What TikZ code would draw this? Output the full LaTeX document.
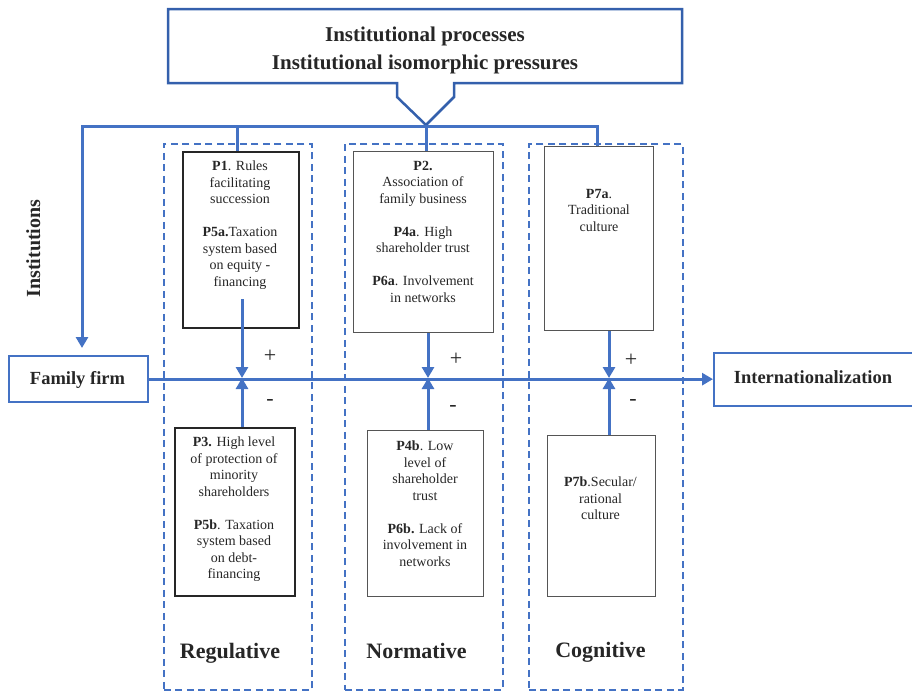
\documentclass[tikz,border=0pt]{standalone}
\usepackage{fontspec}
\setmainfont{Liberation Serif}
\usetikzlibrary{arrows.meta}

\definecolor{linkblue}{RGB}{68,114,196}
\definecolor{frameblue}{RGB}{52,96,172}
\definecolor{inkgray}{RGB}{38,38,38}
\definecolor{boxgray}{RGB}{85,85,85}

\begin{document}
\begin{tikzpicture}[x=1pt,y=-1pt,
  link/.style={draw=linkblue, line width=3pt},
  tip/.style={-{Triangle[length=11pt,width=12pt]}},
  pillar/.style={draw=linkblue, line width=1.8pt, dash pattern=on 7pt off 4.5pt,
    rectangle, inner sep=0, anchor=north west},
  strongbox/.style={draw=black!85, line width=2.2pt, rectangle, inner sep=0, anchor=north west},
  plainbox/.style={draw=boxgray, line width=1.3pt, rectangle, inner sep=0, anchor=north west},
  endbox/.style={draw=linkblue, line width=2.3pt, rectangle, inner sep=0, anchor=north west},
  proptext/.style={font=\fontsize{14}{16.5}\selectfont, align=center, inner sep=0,
    anchor=north, text=inkgray},
  sign/.style={font=\fontsize{22}{22}\selectfont, inner sep=0, text=inkgray},
  pillarname/.style={font=\bfseries\fontsize{22}{22}\selectfont, inner sep=0, anchor=base, text=inkgray},
  endname/.style={font=\bfseries\fontsize{18.5}{18.5}\selectfont, inner sep=0, anchor=base, text=inkgray}
]
\useasboundingbox (0,0) rectangle (912,691);

% callout with the pointer on its lower edge
\coordinate (ptr) at (426,125);
\draw[draw=frameblue, line width=2.5pt, line join=miter]
  (168,9) -- (682,9) -- (682,83) -- (454,83) -- (454,97) -- (ptr)
  -- (397,97) -- (397,83) -- (168,83) -- cycle;
\node[font=\bfseries\fontsize{21}{28}\selectfont, align=center, inner sep=0,
  anchor=north, text=inkgray] (title) at (425,27)
  {Institutional processes\\Institutional isomorphic pressures};

% the three pillars
\node[pillar, minimum width=148pt, minimum height=546pt] (reg) at (163,143) {};
\node[pillar, minimum width=158pt, minimum height=546pt] (nor) at (344,143) {};
\node[pillar, minimum width=154pt, minimum height=546pt] (cog) at (528,143) {};

\node[pillarname] (regname) at (230,658) {Regulative};
\node[pillarname] (norname) at (416.5,658) {Normative};
\node[pillarname] (cogname) at (600.5,657) {Cognitive};

% proposition boxes
\node[strongbox, minimum width=116pt, minimum height=176pt] (p1) at (182,151) {};
\node[plainbox, minimum width=140pt, minimum height=181pt] (p2) at (353,151) {};
\node[plainbox, minimum width=109pt, minimum height=184pt] (p7a) at (544,146) {};
\node[strongbox, minimum width=120pt, minimum height=168pt] (p3) at (174,427) {};
\node[plainbox, minimum width=116pt, minimum height=166pt] (p4b) at (367,430) {};
\node[plainbox, minimum width=108pt, minimum height=161pt] (p7b) at (547,435) {};

\node[proptext] (t1) at (240,161) {\textbf{P1}. Rules\\facilitating\\succession\\[16.5pt]
  \textbf{P5a.}Taxation\\system based\\on equity -\\financing};
\node[proptext] (t2) at (423,161) {\textbf{P2.}\\Association of\\family business\\[16.5pt]
  \textbf{P4a}. High\\shareholder trust\\[16.5pt]\textbf{P6a}. Involvement\\in networks};
\node[proptext] (t7a) at (599,189) {\textbf{P7a}.\\Traditional\\culture};
\node[proptext] (t3) at (234,437) {\textbf{P3.} High level\\of protection of\\minority\\shareholders\\[16.5pt]
  \textbf{P5b}. Taxation\\system based\\on debt-\\financing};
\node[proptext] (t4b) at (425,441) {\textbf{P4b}. Low\\level of\\shareholder\\trust\\[16.5pt]
  \textbf{P6b.} Lack of\\involvement in\\networks};
\node[proptext] (t7b) at (600.5,477) {\textbf{P7b}.Secular/\\rational\\culture};

% firm and outcome
\node[endbox, minimum width=139pt, minimum height=46pt] (ff) at (8,355) {};
\node[endname] at (77.5,384) {Family firm};
\node[endbox, minimum width=205pt, minimum height=53pt] (intl) at (713,352) {};
\node[endname] at (813,383) {Internationalization};

\node[font=\bfseries\fontsize{20}{20}\selectfont, rotate=90, inner sep=0, anchor=base,
  text=inkgray] (inst) at (40,248.5) {Institutions};

% institutional bus
\coordinate (busL) at (82,126);
\coordinate (busR) at (597,126);
\coordinate (busP) at (237,126);
\draw[link, tip, shorten >=7pt] (busR |- p7a.north) -- (busR) -- (busL) -- (busL |- ff.north);
\draw[link] (busP) -- (busP |- p1.north);
\draw[link] (ptr) -- (ptr |- p2.north);

% main path from firm to internationalization
\draw[link, tip] (ff.east) -- (ff.east -| intl.west);

% junctions on the main path
\coordinate (jr) at (242,378);
\coordinate (jn) at (428,378);
\coordinate (jc) at (609,378);
\coordinate (jrs) at (242,299);
\draw[link, tip] (jrs) -- (jr);
\draw[link, tip] (jr |- p3.north) -- (jr);
\draw[link, tip] (jn |- p2.south) -- (jn);
\draw[link, tip] (jn |- p4b.north) -- (jn);
\draw[link, tip] (jc |- p7a.south) -- (jc);
\draw[link, tip] (jc |- p7b.north) -- (jc);

% signs of the effects
\node[sign] (pr) at (270,356) {+};
\node[sign] (pn) at (456,359) {+};
\node[sign] (pc) at (631,360) {+};
\node[sign] (mr) at (270,402) {-};
\node[sign] (mn) at (453,408) {-};
\node[sign] (mc) at (633,402) {-};
\end{tikzpicture}
\end{document}
